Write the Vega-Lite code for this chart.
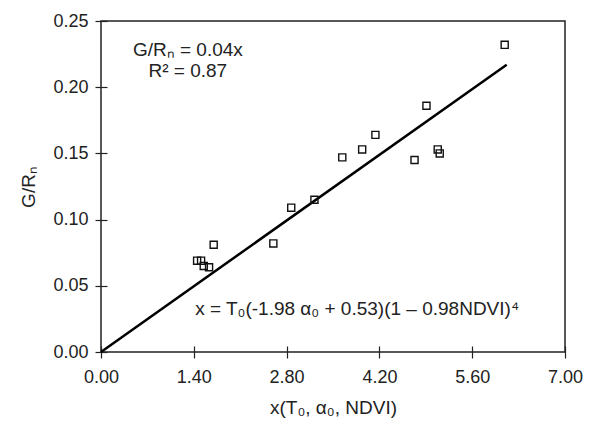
{
  "$schema": "https://vega.github.io/schema/vega-lite/v6.json",
  "width": 464,
  "height": 331,
  "autosize": {"type": "none"},
  "padding": {"left": 101, "top": 21, "right": 27, "bottom": 70},
  "background": "white",
  "config": {
    "font": "Liberation Sans",
    "view": {"stroke": "#222", "strokeWidth": 1.5},
    "axis": {
      "grid": false,
      "domain": false,
      "offset": -6,
      "tickColor": "#222",
      "tickWidth": 1.2,
      "tickSize": 12,
      "labelFlush": false,
      "labelFont": "Liberation Sans",
      "labelFontSize": 18,
      "labelColor": "#222",
      "titleFont": "Liberation Sans",
      "titleFontSize": 19,
      "titleFontWeight": "normal",
      "titleColor": "#222"
    }
  },
  "datasets": {
    "pts": [
      {"x": 1.45, "y": 0.069},
      {"x": 1.51, "y": 0.069},
      {"x": 1.55, "y": 0.065},
      {"x": 1.63, "y": 0.064},
      {"x": 1.70, "y": 0.081},
      {"x": 2.60, "y": 0.082},
      {"x": 2.87, "y": 0.109},
      {"x": 3.22, "y": 0.115},
      {"x": 3.64, "y": 0.147},
      {"x": 3.94, "y": 0.153},
      {"x": 4.14, "y": 0.164},
      {"x": 4.73, "y": 0.145},
      {"x": 4.91, "y": 0.186},
      {"x": 5.08, "y": 0.153},
      {"x": 5.11, "y": 0.150},
      {"x": 6.09, "y": 0.232}
    ],
    "fit": [
      {"x": 0, "y": 0},
      {"x": 6.12, "y": 0.217}
    ],
    "stats": [
      {"x": 1.31, "y": 0.228, "t": "G/Rₙ = 0.04x"},
      {"x": 1.31, "y": 0.212, "t": "R² = 0.87"}
    ],
    "eq": [
      {"x": 1.42, "y": 0.0327, "t": "x = T₀(-1.98 α₀ + 0.53)(1 – 0.98NDVI)⁴"}
    ]
  },
  "layer": [
    {
      "data": {"name": "fit"},
      "mark": {"type": "line", "color": "black", "strokeWidth": 2.5},
      "encoding": {
        "x": {
          "field": "x", "type": "quantitative",
          "scale": {"domain": [0, 7], "nice": false, "zero": true},
          "axis": {
            "values": [0, 1.4, 2.8, 4.2, 5.6, 7.0],
            "format": ".2f",
            "labelPadding": 10,
            "title": "x(T₀, α₀, NDVI)",
            "titlePadding": 12
          }
        },
        "y": {
          "field": "y", "type": "quantitative",
          "scale": {"domain": [0, 0.25], "nice": false},
          "axis": {
            "values": [0, 0.05, 0.1, 0.15, 0.2, 0.25],
            "format": ".2f",
            "labelPadding": 7,
            "title": "G/Rₙ",
            "titlePadding": 14
          }
        }
      }
    },
    {
      "data": {"name": "pts"},
      "mark": {"type": "point", "shape": "square", "filled": false, "stroke": "#111", "strokeWidth": 1.4, "size": 50, "opacity": 1},
      "encoding": {
        "x": {"field": "x", "type": "quantitative"},
        "y": {"field": "y", "type": "quantitative"}
      }
    },
    {
      "data": {"name": "stats"},
      "mark": {"type": "text", "fontSize": 19, "color": "#222", "baseline": "middle", "align": "center"},
      "encoding": {
        "x": {"field": "x", "type": "quantitative"},
        "y": {"field": "y", "type": "quantitative"},
        "text": {"field": "t"}
      }
    },
    {
      "data": {"name": "eq"},
      "mark": {"type": "text", "fontSize": 19, "color": "#222", "baseline": "middle", "align": "left"},
      "encoding": {
        "x": {"field": "x", "type": "quantitative"},
        "y": {"field": "y", "type": "quantitative"},
        "text": {"field": "t"}
      }
    }
  ]
}
